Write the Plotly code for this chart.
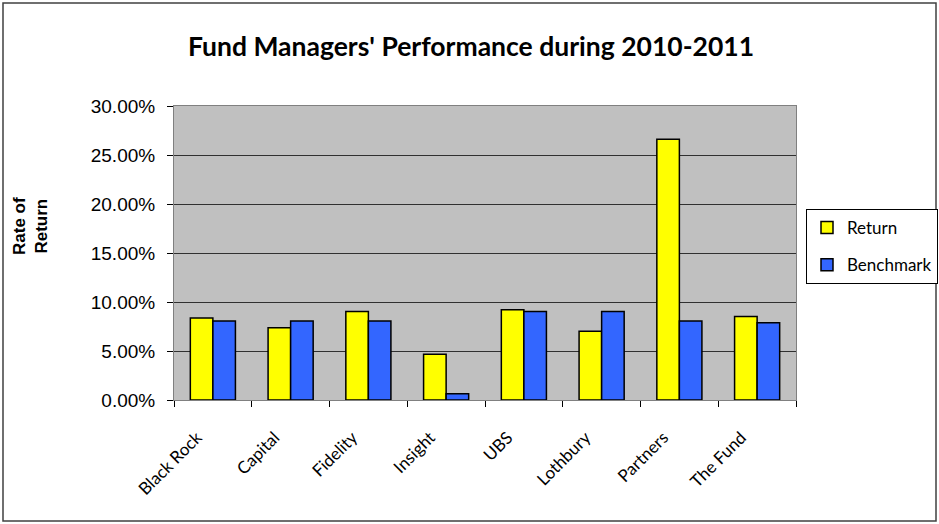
import plotly.graph_objects as go

categories = ["Black Rock", "Capital", "Fidelity", "Insight", "UBS", "Lothbury", "Partners", "The Fund"]
returns = [0.0836, 0.0736, 0.0903, 0.0467, 0.0920, 0.0702, 0.2660, 0.0852]
benchmark = [0.0805, 0.0805, 0.0805, 0.0065, 0.0903, 0.0903, 0.0805, 0.0787]
y_ticks = [0, 0.05, 0.10, 0.15, 0.20, 0.25, 0.30]

fig = go.Figure()
fig.add_trace(go.Bar(x=categories, y=returns, name="Return", legendgroup="r",
                     marker=dict(color="#FFFF00", line=dict(color="black", width=1.5))))
fig.add_trace(go.Bar(x=categories, y=benchmark, name="Benchmark", legendgroup="b",
                     marker=dict(color="#3366FF", line=dict(color="black", width=1.5))))

L, R, T, B = 174, 143, 106, 124
W, H = 939, 524
pw, ph = W - L - R, H - T - B

fig.update_layout(
    width=W, height=H,
    margin=dict(l=L, r=R, t=T, b=B, autoexpand=False),
    paper_bgcolor="white", plot_bgcolor="#C0C0C0",
    barmode="group", bargap=0.42, bargroupgap=0,
    title=dict(text="<b>Fund Managers' Performance during 2010-2011</b>",
               x=(471 - L) / pw, xref="paper", xanchor="center", y=1 - 47 / H, yanchor="middle",
               font=dict(family="Lato, sans-serif", size=26.5, color="black")),
    showlegend=True,
    legend=dict(x=(806 - L) / pw, y=(H - B - 209) / ph, xanchor="left", yanchor="top",
                bordercolor="black", borderwidth=1, bgcolor="white",
                font=dict(family="Lato, sans-serif", size=17, color="black"),
                tracegroupgap=12, itemwidth=30),
    xaxis=dict(showgrid=False, tickangle=-45, ticks="outside", ticklen=6, tickcolor="black",
               tickson="boundaries", showline=True, linecolor="#808080", linewidth=1, mirror=True,
               ticklabelstandoff=20, ticklabelshift=-16,
               tickfont=dict(family="Lato, sans-serif", size=17, color="black")),
    yaxis=dict(range=[0, 0.30], tickvals=y_ticks, tickformat=".2%",
               showgrid=True, gridcolor="#303030", gridwidth=1,
               ticks="outside", ticklen=6, tickcolor="black",
               showline=True, linecolor="#808080", linewidth=1, mirror=True,
               zeroline=False, ticklabelstandoff=8,
               tickfont=dict(family="Liberation Sans, Arial, sans-serif", size=19, color="black")),
    annotations=[dict(text="<b>Rate of<br>Return</b>", textangle=-90, xref="paper", yref="paper",
                      x=(30 - L) / pw, y=(H - B - 226) / ph, xanchor="center", yanchor="middle",
                      showarrow=False,
                      font=dict(family="Liberation Sans, Arial, sans-serif", size=17, color="black"))],
    shapes=[dict(type="rect", xref="paper", yref="paper",
                 x0=(3 - L) / pw, x1=(936 - L) / pw,
                 y0=(H - B - 521) / ph, y1=(H - B - 3) / ph,
                 line=dict(color="#404040", width=1.5), fillcolor="rgba(0,0,0,0)", layer="below")],
)

fig.write_html("out.html", config={"displayModeBar": False},
               post_script="document.body.style.margin='0px';")
